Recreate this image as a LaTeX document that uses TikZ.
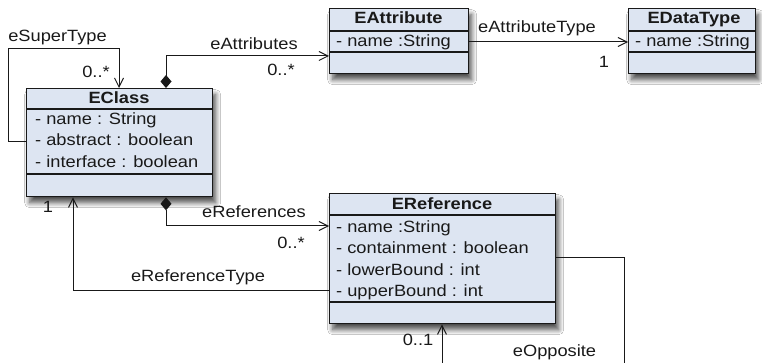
\documentclass[tikz,border=0pt]{standalone}
\usepackage{fontspec}
\setmainfont[FakeStretch=1.12]{Liberation Sans}
\usetikzlibrary{arrows.meta,shadows.blur}
\definecolor{boxfill}{RGB}{221,229,242}
\definecolor{ink}{RGB}{25,25,25}
\tikzset{
  classbox/.style={draw=ink, line width=1.3pt, fill=boxfill, anchor=north west, inner sep=0pt,
    blur shadow={shadow xshift=3pt, shadow yshift=-6pt, shadow blur radius=5pt, shadow blur steps=10, shadow opacity=70}},
  ctitle/.style={anchor=base, inner sep=0pt, font=\fontsize{16.3}{19}\selectfont\bfseries, text=ink},
  cattr/.style={anchor=base west, inner sep=0pt, text=ink},
  csep/.style={draw=ink, line width=1.3pt},
  conn/.style={draw=ink, line width=1pt},
  barb/.style={-{Straight Barb[length=9pt,width=9pt,line width=1pt]}},
  compo/.style={{Diamond[length=13pt,width=11pt]}-{Straight Barb[length=9pt,width=9pt,line width=1pt]}},
  lbl/.style={anchor=base, inner sep=0pt, text=ink},
}
\begin{document}
\begin{tikzpicture}[x=1pt,y=-1pt,font=\fontsize{16.3}{19}\selectfont]
\useasboundingbox (0,0) rectangle (762,363);
\clip (0,0) rectangle (762,363);
\fill[white] (0,0) rectangle (762,363);

% EClass
\node[classbox, minimum width=186pt, minimum height=108pt] (eclass) at (26,88) {};
\draw[csep] (eclass.west |- 0,109) -- (eclass.east |- 0,109);
\draw[csep] (eclass.west |- 0,174) -- (eclass.east |- 0,174);
\node[ctitle] (eclassT) at (119,104) {EClass};
\node[cattr] (eclassA1) at (35,124.5) {- name : String};
\node[cattr] (eclassA2) at (35,146) {- abstract : boolean};
\node[cattr] (eclassA3) at (35,167.5) {- interface : boolean};

% EAttribute
\node[classbox, minimum width=139pt, minimum height=65pt] (eattr) at (329,8) {};
\draw[csep] (eattr.west |- 0,31) -- (eattr.east |- 0,31);
\draw[csep] (eattr.west |- 0,52) -- (eattr.east |- 0,52);
\node[ctitle] (eattrT) at (398.5,24) {EAttribute};
\node[cattr] (eattrA1) at (336,46.5) {- name :String};

% EDataType
\node[classbox, minimum width=127pt, minimum height=65pt] (edata) at (628,8) {};
\draw[csep] (edata.west |- 0,31) -- (edata.east |- 0,31);
\draw[csep] (edata.west |- 0,52) -- (edata.east |- 0,52);
\node[ctitle] (edataT) at (694,24) {EDataType};
\node[cattr] (edataA1) at (635,46.5) {- name :String};

% EReference
\node[classbox, minimum width=226pt, minimum height=130pt] (eref) at (329,193) {};
\draw[csep] (eref.west |- 0,215) -- (eref.east |- 0,215);
\draw[csep] (eref.west |- 0,302) -- (eref.east |- 0,302);
\node[ctitle] (erefT) at (442,209.5) {EReference};
\node[cattr] (erefA1) at (336,232.5) {- name :String};
\node[cattr] (erefA2) at (336,253.5) {- containment : boolean};
\node[cattr] (erefA3) at (336,275) {- lowerBound : int};
\node[cattr] (erefA4) at (336,296.5) {- upperBound : int};

% connectors
\draw[conn, barb] (eclass.west |- 0,142) -| (8,49) -| (eclass.north -| 119,0);
\draw[conn, compo] (eclass.north -| 166,0) |- (eattr.west |- 0,56);
\draw[conn, barb] (eattr.east |- 0,42) -- (edata.west |- 0,42);
\draw[conn, compo] (eclass.south -| 166,0) |- (eref.west |- 0,226);
\draw[conn, barb] (eref.west |- 0,290) -| (eclass.south -| 73,0);
\draw[conn, barb] (eref.east |- 0,257) -| (624,390) -| (eref.south -| 442,0);

% labels
\node[lbl] (lSuper) at (57.5,42) {eSuperType};
\node[lbl] (mSuper) at (96,77.5) {0..*};
\node[lbl] (lAttr) at (254,50) {eAttributes};
\node[lbl] (mAttr) at (281,75.5) {0..*};
\node[lbl] (lAttrType) at (537,33) {eAttributeType};
\node[lbl] (mAttrType) at (604,67.5) {1};
\node[lbl] (lRefs) at (254,217.5) {eReferences};
\node[lbl] (mRefs) at (291,248.5) {0..*};
\node[lbl] (lRefType) at (198,281) {eReferenceType};
\node[lbl] (mRefType) at (48,212.5) {1};
\node[lbl] (mOpp) at (418,345.5) {0..1};
\node[lbl] (lOpp) at (554.5,356) {eOpposite};
\end{tikzpicture}
\end{document}
